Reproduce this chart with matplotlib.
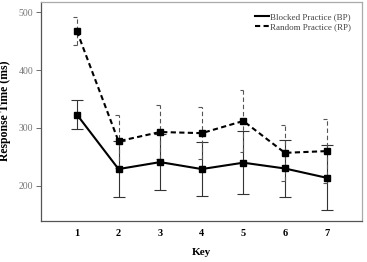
import matplotlib
matplotlib.use("Agg")
import matplotlib.pyplot as plt
import numpy as np

keys = [1, 2, 3, 4, 5, 6, 7]
bp_mean = [323, 229, 241, 229, 240, 230, 214]
bp_err = [25, 48, 48, 46, 54, 49, 56]
rp_mean = [467, 277, 293, 291, 312, 257, 260]
rp_err = [24, 46, 47, 45, 54, 48, 55]
yticks = [200, 300, 400, 500]

plt.rcParams['font.family'] = ['Liberation Serif', 'DejaVu Serif']

fig = plt.figure(figsize=(3.67, 2.62), dpi=100)
ax = fig.add_axes([0.111, 0.158, 0.875, 0.8355])

# error bars
ax.errorbar(keys, bp_mean, yerr=bp_err, fmt='none', ecolor='#333333',
            elinewidth=0.8, capsize=4.5, capthick=0.8, zorder=2)
eb = ax.errorbar(keys, rp_mean, yerr=rp_err, fmt='none', ecolor='#555555',
                 elinewidth=0.8, capsize=0, zorder=2)
for lc in eb[2]:
    lc.set_linestyle((0, (4, 2.5)))
x = np.array(keys, dtype=float)
rm = np.array(rp_mean, dtype=float)
re = np.array(rp_err, dtype=float)
ax.hlines(rm + re, x - 0.09, x, colors='#555555', lw=0.8, zorder=2)
ax.hlines(rm - re, x - 0.09, x, colors='#555555', lw=0.8, zorder=2)

ax.plot(keys, bp_mean, color='black', lw=1.5, marker='s', ms=4.5,
        label='Blocked Practice (BP)', zorder=3)
ax.plot(keys, rp_mean, color='black', lw=1.5, ls=(0, (2.5, 1.6)), marker='s',
        ms=4.5, label='Random Practice (RP)', zorder=3)

ax.set_xlim(0.13, 7.85)
ax.set_ylim(140, 518)
ax.set_xticks(keys)
ax.set_xticklabels([str(k) for k in keys], fontsize=7.5, fontweight='bold')
ax.tick_params(axis='x', length=0, pad=6)
ax.set_yticks(yticks)
ax.set_yticklabels([str(t) for t in yticks], fontsize=7, color='#777777')
ax.tick_params(axis='y', length=3.5, width=0.6, color='#555555', pad=2)

ax.set_xlabel('Key', fontsize=8, fontweight='bold', labelpad=7)
ax.set_ylabel('Response Time (ms)', fontsize=8.5, fontweight='bold', labelpad=5)

for side in ['left', 'bottom']:
    ax.spines[side].set_color('#555555')
    ax.spines[side].set_linewidth(0.9)
for side in ['top', 'right']:
    ax.spines[side].set_color('#aaaaaa')
    ax.spines[side].set_linewidth(0.9)

leg = ax.legend(loc='upper right', fontsize=6.5, frameon=False, handlelength=1.5,
                handletextpad=0.15, labelspacing=0.2, borderaxespad=0.8,
                markerscale=0)
for t in leg.get_texts():
    t.set_color('#444444')

fig.savefig('out.png', dpi=100)
